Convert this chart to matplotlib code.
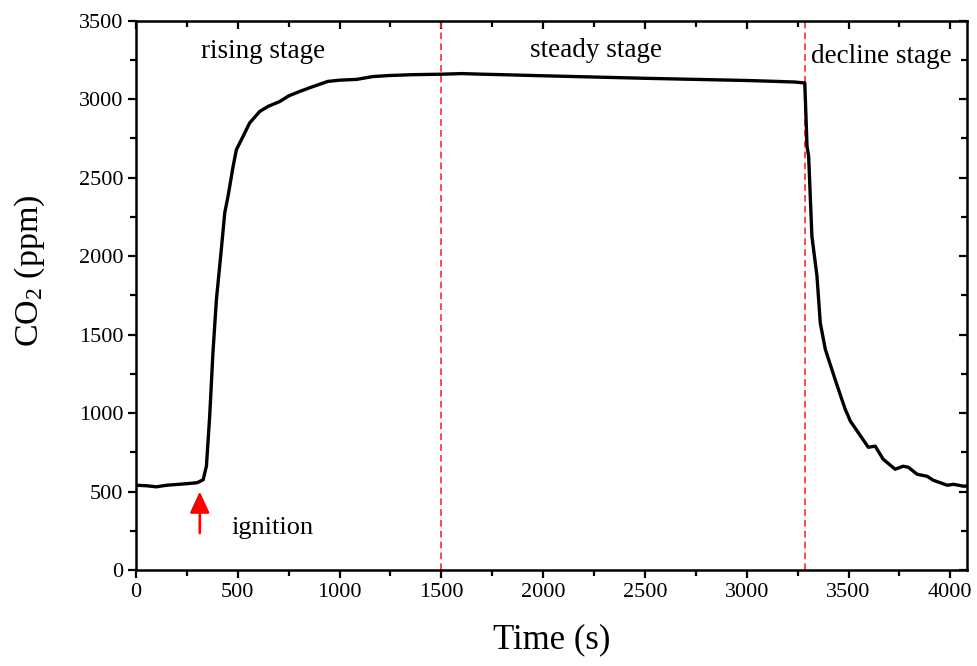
#!/usr/bin/env python3
"""CO2 concentration during a combustion test: rising, steady and decline stages."""

from __future__ import annotations

import matplotlib

matplotlib.use("Agg")
import matplotlib.pyplot as plt
from matplotlib.ticker import MultipleLocator

plt.rcParams["font.family"] = ["Liberation Serif", "DejaVu Serif"]
plt.rcParams["mathtext.fontset"] = "custom"
plt.rcParams["mathtext.rm"] = "Liberation Serif"
plt.rcParams["mathtext.it"] = "Liberation Serif:italic"

# values
TIME_S = [0, 50, 100, 150, 200, 250, 300, 330, 346, 362, 378, 395, 419, 436,
          452, 477, 493, 526, 558, 608, 649, 706, 750, 804, 860, 942, 1000,
          1084, 1163, 1250, 1360, 1500, 1600, 1700, 1800, 2000, 2250, 2500,
          2750, 3000, 3150, 3238, 3285, 3296, 3304, 3320, 3345, 3361, 3386,
          3418, 3434, 3467, 3484, 3509, 3543, 3597, 3631, 3670, 3729, 3768,
          3793, 3837, 3886, 3916, 3985, 4015, 4064, 4080]
CO2_PPM = [540, 537, 530, 540, 545, 550, 556, 575, 663, 981, 1386, 1723, 2041,
           2276, 2380, 2571, 2677, 2762, 2847, 2921, 2953, 2984, 3020, 3048,
           3075, 3112, 3120, 3125, 3143, 3150, 3155, 3158, 3162, 3158, 3155,
           3148, 3140, 3132, 3125, 3118, 3112, 3108, 3102, 2699, 2635, 2126,
           1871, 1575, 1405, 1278, 1214, 1087, 1023, 948, 884, 782, 789, 706,
           642, 661, 655, 610, 597, 572, 540, 546, 534, 535]

STAGE_BOUNDS = [1500, 3285]
STAGE_LABELS = ["rising stage", "steady stage", "decline stage"]
STAGE_LABEL_X = [623, 2260, 3660]
STAGE_LABEL_Y = [3300, 3310, 3270]

IGNITION_T = 313


def style_ticks(axis_obj, direction: str, **kw) -> None:
    axis_obj.tick_params(which="both", direction=direction, width=1.6, **kw)
    axis_obj.tick_params(which="major", length=6)
    axis_obj.tick_params(which="minor", length=4)


def main() -> None:
    fig = plt.figure(figsize=(9.77, 6.66), dpi=100)
    ax = fig.add_axes([0.1392, 0.1441, 0.8506, 0.8251])

    for xb in STAGE_BOUNDS:
        ax.axvline(xb, color="#ff2a2a", lw=1.2, ls=(0, (4, 2.5)), zorder=1)

    ax.plot(TIME_S, CO2_PPM, color="black", lw=2.4, zorder=3,
            solid_joinstyle="round")

    for label, lx, ly in zip(STAGE_LABELS, STAGE_LABEL_X, STAGE_LABEL_Y):
        ax.text(lx, ly, label, ha="center", va="center", fontsize=19.5)

    ax.annotate("", xy=(IGNITION_T, 500), xytext=(IGNITION_T, 235),
                arrowprops=dict(arrowstyle="-|>,head_length=0.65,head_width=0.3",
                                mutation_scale=20, color="red", lw=1.8,
                                shrinkA=0, shrinkB=0))
    ax.text(470, 270, "ignition", ha="left", va="center", fontsize=19)

    ax.set_xlim(0, 4082)
    ax.set_ylim(0, 3500)
    ax.xaxis.set_major_locator(MultipleLocator(500))
    ax.xaxis.set_minor_locator(MultipleLocator(250))
    ax.yaxis.set_major_locator(MultipleLocator(500))
    ax.yaxis.set_minor_locator(MultipleLocator(250))

    style_ticks(ax, "out", labelsize=16, top=False, right=False)
    ax.tick_params(which="major", pad=3)
    for spine in ax.spines.values():
        spine.set_linewidth(1.8)

    # inward ticks mirrored on top and right, as in the original
    secx = ax.secondary_xaxis("top")
    secx.xaxis.set_major_locator(MultipleLocator(500))
    secx.xaxis.set_minor_locator(MultipleLocator(250))
    style_ticks(secx, "in", labeltop=False)
    secy = ax.secondary_yaxis("right")
    secy.yaxis.set_major_locator(MultipleLocator(500))
    secy.yaxis.set_minor_locator(MultipleLocator(250))
    style_ticks(secy, "in", labelright=False)

    ax.set_xlabel("Time (s)", fontsize=25, labelpad=16)
    ax.set_ylabel(r"CO$_{2}$ (ppm)", fontsize=24.5)
    ax.yaxis.set_label_coords(-0.107, 0.545)

    fig.savefig("out.png", dpi=100)
    plt.close(fig)


if __name__ == "__main__":
    main()
